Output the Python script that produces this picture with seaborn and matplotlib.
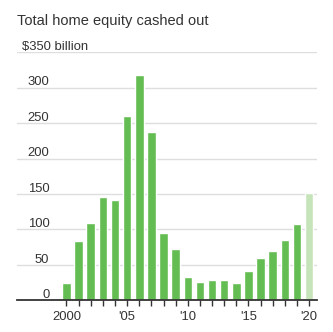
import matplotlib
matplotlib.use("Agg")
import matplotlib.pyplot as plt
import seaborn as sns
import pandas as pd

years = list(range(2000, 2021))
values = [24, 83, 109, 146, 141, 260, 318, 237, 95, 72, 33, 26, 29, 29, 25, 42, 60, 70, 85, 107, 152]
status = ["final"] * 20 + ["estimate"]
ytick_values = [0, 50, 100, 150, 200, 250, 300, 350]
ytick_labels = ["0", "50", "100", "150", "200", "250", "300", "$350 billion"]
xtick_labels = {2000: "2000", 2005: "'05", 2010: "'10", 2015: "'15", 2020: "'20"}
title = "Total home equity cashed out"

df = pd.DataFrame({"year": years, "value": values, "status": status})

sns.set_theme(style="white")
plt.rcParams["font.family"] = ["Liberation Sans", "DejaVu Sans"]

W, H = 333, 332
fig = plt.figure(figsize=(W / 100, H / 100), dpi=100)
left_px, right_px, top_px, bot_px = 17, 316.7, 52.3, 300.3
ax = fig.add_axes([left_px / W, 1 - bot_px / H, (right_px - left_px) / W, (bot_px - top_px) / H])

sns.barplot(data=df, x="year", y="value", hue="status",
            palette={"final": "#64bd52", "estimate": "#c6e4b9"},
            dodge=False, width=0.7, legend=False, ax=ax, saturation=1, zorder=2)

ax.set_xlim(-4.08, 20.63)
ax.set_ylim(0, 350)
ax.set_xlabel("")
ax.set_ylabel("")

for s in ["top", "right", "left"]:
    ax.spines[s].set_visible(False)
ax.spines["bottom"].set_color("#333333")
ax.spines["bottom"].set_linewidth(1.3)
ax.spines["bottom"].set_zorder(3)

ax.set_yticks(ytick_values)
ax.set_yticklabels([])
ax.tick_params(axis="y", length=0)
ax.yaxis.grid(True, color="#dedede", linewidth=1)
ax.set_axisbelow(True)

ax.set_xticks(range(len(years)))
ax.set_xticklabels([xtick_labels.get(y, "") for y in years], fontsize=9.4, color="#333333")
ax.tick_params(axis="x", length=4.5, width=1, color="#333333", pad=3, bottom=True)

ytr = ax.get_yaxis_transform()
for v, lab in zip(ytick_values, ytick_labels):
    if lab.startswith("$"):
        ax.text((21.7 - left_px) / (right_px - left_px), v + 3.2, lab, transform=ytr,
                ha="left", va="baseline", fontsize=9.4, color="#333333")
    else:
        ax.text((49.3 - left_px) / (right_px - left_px), v + 3.2, lab, transform=ytr,
                ha="right", va="baseline", fontsize=9.4, color="#333333")

fig.text(17 / W, 1 - 25.3 / H, title, ha="left", va="baseline", fontsize=10.5, color="#333333")

fig.savefig("out.png", dpi=100)
